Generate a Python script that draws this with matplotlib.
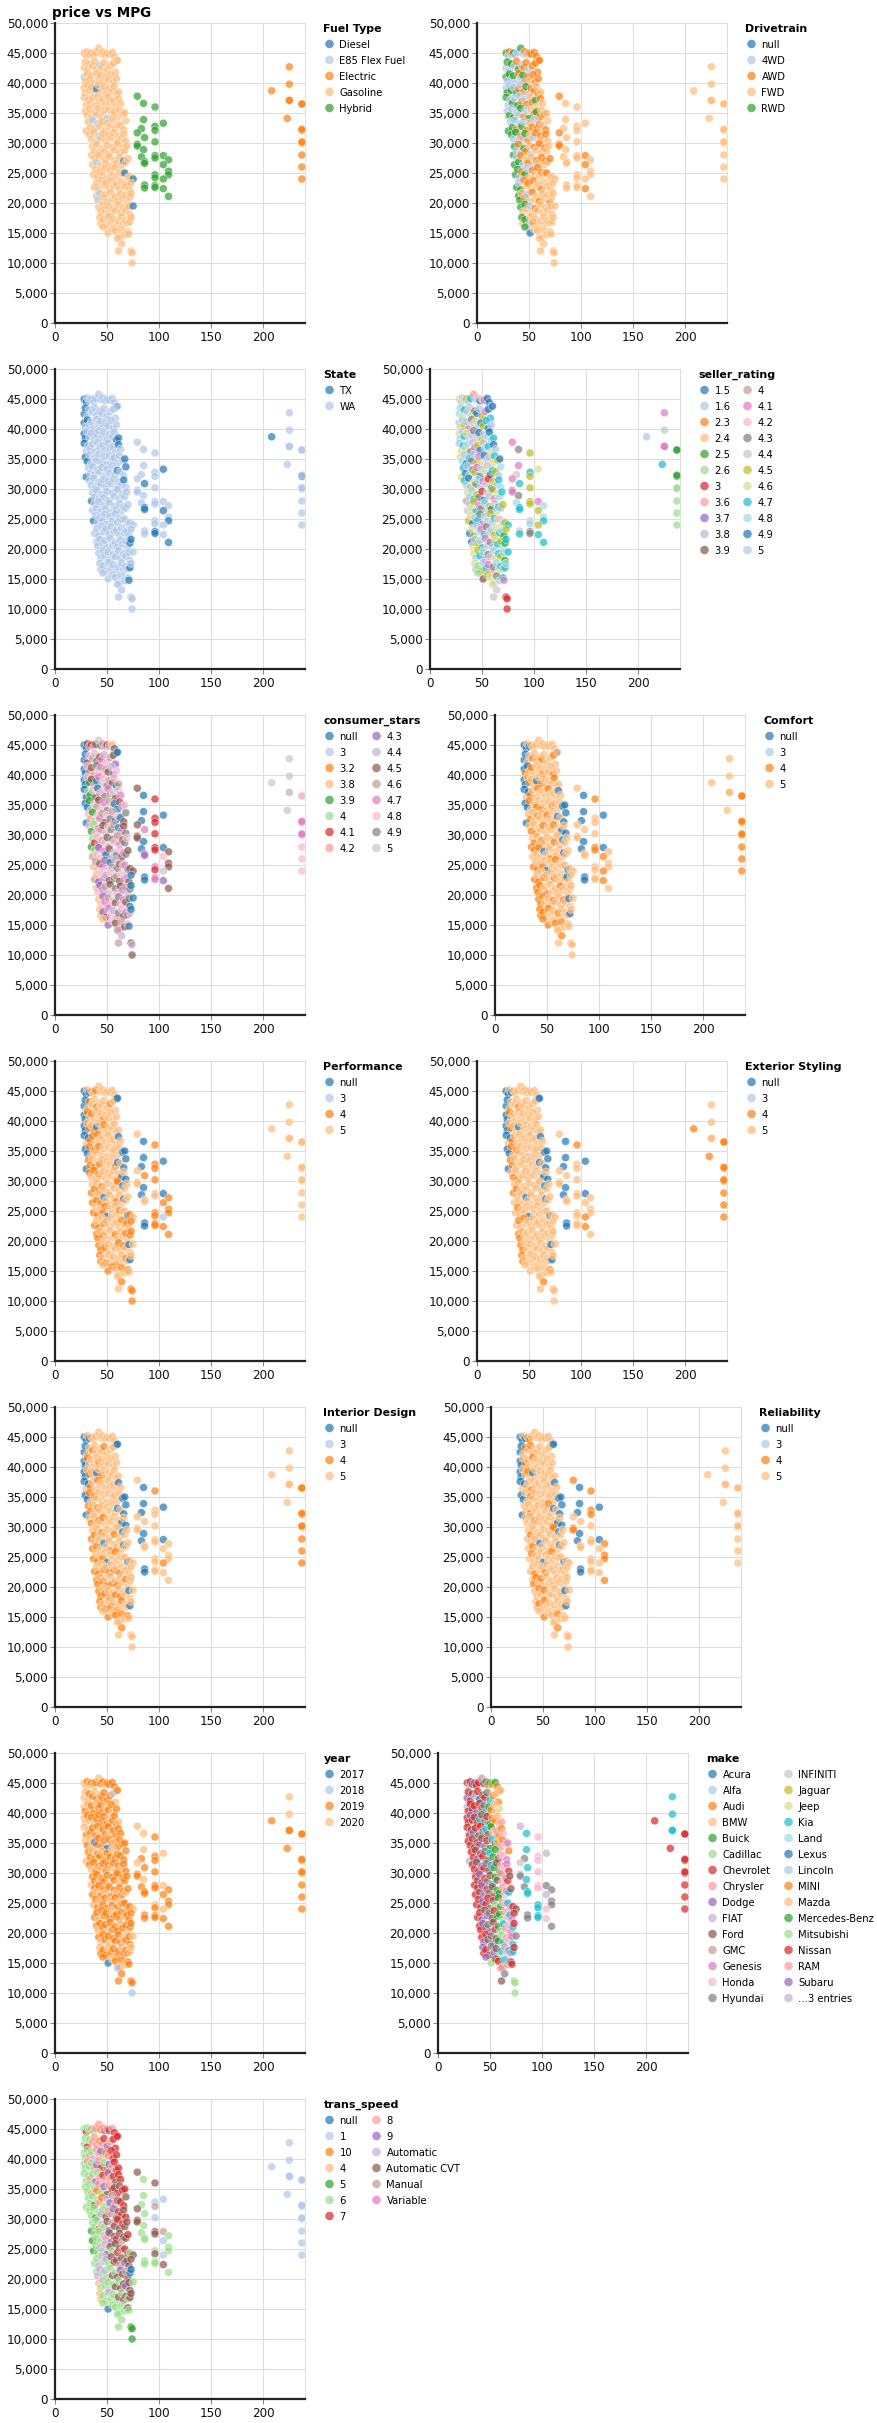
import matplotlib
matplotlib.use("Agg")
import matplotlib.pyplot as plt
from matplotlib.ticker import FuncFormatter
from collections import Counter

# ---------------- data ----------------
MPG = [
    28, 30, 31, 33, 35, 37, 39, 42, 44, 46, 48, 50, 52, 55, 57, 59,
    28, 29, 31, 33, 36, 38, 40, 43, 45, 47, 50, 53, 56, 58, 60,
    28, 29, 31, 33, 35, 37, 40, 42, 44, 46, 49, 51, 54, 56, 59,
    28, 29, 31, 33, 35, 38, 40, 42, 45, 47, 50, 52, 55, 57, 59, 61,
    28, 30, 32, 34, 36, 39, 41, 43, 46, 48, 51, 53, 56, 58, 61, 63,
    29, 31, 33, 35, 38, 40, 42, 45, 47, 50, 52, 55, 57, 60, 62, 65, 67,
    30, 32, 34, 36, 38, 41, 43, 45, 48, 50, 53, 55, 58, 60, 63, 66, 68,
    33, 35, 37, 39, 42, 44, 46, 49, 51, 54, 56, 59, 61, 64, 66, 68,
    35, 36, 38, 40, 42, 45, 47, 50, 52, 55, 57, 60, 62, 65, 67, 69,
    36, 38, 40, 42, 44, 47, 49, 52, 54, 57, 59, 62, 64, 66, 68, 70,
    37, 39, 41, 43, 46, 48, 50, 53, 55, 58, 60, 62, 65, 67, 70, 72, 75,
    38, 40, 42, 45, 47, 49, 52, 54, 57, 59, 62, 64, 67, 69, 71, 73,
    40, 41, 43, 46, 48, 50, 53, 55, 58, 60, 63, 65, 68, 70, 72, 73,
    42, 44, 46, 48, 51, 53, 56, 58, 61, 63, 66, 68, 71, 72, 75,
    43, 44, 46, 49, 51, 54, 56, 59, 61, 64, 66, 68, 70, 72, 73,
    46, 51, 55, 58, 62, 64, 67, 70, 71,
    60, 61, 64, 73, 74, 74,
    79, 85, 96, 85, 104, 96, 96, 83, 79, 86, 96, 79, 79, 85, 83, 96, 96,
    104, 109, 86, 86, 104, 109, 109, 96, 96, 104, 86, 86, 96, 96, 104, 109,
    225, 225, 208, 225, 225, 237, 237, 223, 237, 237, 237, 237, 237, 237, 237,
]
PRICE = [
    45000, 44500, 45200, 44800, 45000, 44600, 45100, 45800, 44900, 45200, 44700, 45000, 44800, 45100, 44400, 43700,
    42500, 43500, 42000, 43200, 42800, 43600, 42300, 43000, 42600, 43400, 42100, 42900, 43300, 41800, 43800,
    41000, 40300, 41500, 40600, 41200, 40000, 41600, 40800, 41300, 40200, 41000, 40500, 41400, 40100, 40700,
    39200, 38400, 39600, 38800, 39300, 38300, 39000, 39700, 38600, 39400, 38200, 39100, 38700, 39500, 38100, 38500,
    37600, 36300, 37200, 36700, 37500, 36200, 37800, 36900, 37300, 36400, 37700, 36800, 37100, 36100, 37400, 36600,
    35300, 34600, 35700, 34200, 35100, 34700, 35800, 34400, 35400, 34100, 35600, 34900, 35200, 34300, 35500, 34800, 35000,
    32000, 33500, 32600, 33800, 32300, 33200, 32800, 33600, 32100, 33300, 32700, 33900, 32400, 33100, 32900, 32200, 33700,
    31400, 30600, 31800, 30200, 31100, 30800, 31600, 30400, 31300, 30900, 31700, 30100, 31200, 30700, 31500, 30300,
    28000, 29400, 28700, 29800, 28300, 29100, 28600, 29600, 28100, 29300, 28800, 29900, 28400, 29200, 28700, 29500,
    26400, 27500, 26800, 27900, 26200, 27300, 26700, 27700, 26100, 27100, 26600, 27600, 26300, 27000, 26800, 27400,
    24700, 25600, 24300, 25200, 24800, 25800, 24100, 25400, 24600, 25900, 24400, 25100, 24900, 25000, 24200, 24400, 24000,
    22600, 23400, 22200, 23800, 22900, 23300, 22400, 23700, 22800, 23100, 22300, 23500, 22700, 23000, 22200, 23300,
    21200, 20500, 21600, 20900, 21400, 20200, 21800, 20600, 21100, 20300, 21500, 20800, 21300, 20100, 21000, 21600,
    19300, 18500, 19800, 18900, 19500, 18200, 19100, 18700, 19700, 18400, 19200, 18800, 19400, 18100, 19500,
    17600, 16600, 17200, 16300, 17800, 16800, 17400, 16100, 17000, 17700, 16500, 17100, 16700, 16900, 17600,
    16000, 15000, 15700, 15300, 14300, 15500, 14700, 15200, 14800,
    14100, 12000, 13200, 12000, 11700, 10000,
    37800, 36600, 36000, 33900, 33300, 32800, 32100, 32400, 31700, 30900, 30200, 29800, 29500, 28900, 27700, 27900, 27500,
    27900, 27200, 26900, 26600, 26400, 25300, 24700, 24700, 24200, 24000, 23000, 22500, 22900, 22600, 22400, 21100,
    42700, 39800, 38700, 37100, 37100, 36500, 36500, 34100, 32100, 32300, 30000, 30200, 28000, 26000, 24000,
]
# number of records in each price band of the listing above (last two: hybrids, electrics)
BAND_SIZES = [16, 15, 15, 16, 16, 17, 17, 16, 16, 16, 17, 16, 16, 15, 15, 9, 6, 33, 15]

# category labels (legend order) and one-letter codes per record, bands separated by spaces
FUEL_LABELS = ["Diesel", "E85 Flex Fuel", "Electric", "Gasoline", "Hybrid"]
FUEL_KEYS = "DXEGH"
FUEL = ("GGGGGGGGGGGGGGGG GGGGGGGXGGGGGGG XGGGGGGGGGGGGGG GGGGGGDGGGGGGGGG GGGGGGGGGGGGGGGG "
        "GGGGGGGGGXGGGGGGG GGGXGXGGGGGGGGGGG GGGGXGGGGGGGGGGG GGGGGGGGGGGGGGGG GGXGGGGGGGGGGDGG "
        "GGGGGGGGGGGGGDGGD GGGGGGGGGGGGGGGG GXXGGGGGGGGGGGGG GGGGGGGGGGGGGGD GGGGGGGGGGGGGGG "
        "GGGGGGGGG GGGGGG HHHHHHHHHHHHHHHHHHHHHHHHHHHHHHHHH EEEEEEEEEEEEEEE")

DRIVE_LABELS = ["null", "4WD", "AWD", "FWD", "RWD"]
DRIVE_KEYS = "N4AFR"
DRIVE = ("R4A4R44R4A4AAAAA 4R4R4AR4AA4AAAA R4R4R4A4RAAFAAA 4R4R4RA4AR4AAFAF R44R4R4A4AFARFAF "
         "4R4R44RA4RFARAFAF R4R4A4R4AFA4AAFAF R4R4A4RAF4AFAFAF RR4A4RAF4AFAFAFF R4RA4FAF4AFAFAFA "
         "RR4AR4FAFAFAFAFFF R4RAFAFAFFAFFFFF RRFA4FAFFAFFFAFF RFRF4FAFFFFFFFF RFR4FAFFFFFFFFF "
         "RNFFFFFFF FFFFFF AFFFFFFFAFFAAFFFFAFFFAFFFFFFFFFAF FFFFFFFFFFFFFFF")

STATE_LABELS = ["TX", "WA"]
STATE_KEYS = "TW"
STATE = ("TTWWWWWWWWWWWWWT TTWWWWWWWWWWWWW TWTWWWWWWWWWWWW TTWWWWWWWWWWWWTT TWWWWWWWWWWWWWTW "
         "TTWWWWWWWWWWWWWWT TWWWWWWWWWWWWTWWT WWWWWWWWWWWWWWTW TWWWWWWWWWWWWWWW WWWWWWWWWWWWWWWW "
         "TWWWWWWWWWWWWWWWW WWWWWWWWWWWWWWWW WWWWWWWWWWWWWWTT WWWWWWWWWWWWWWW WWWWWWWWWWWWWTW "
         "WWWWWWWWT WWWWWW WWWWTWWWWTWWWWWWWWWTTTWTWWWWWTTWT WWTWWWWWTWWWWWW")

SELLER_LABELS = ["1.5", "1.6", "2.3", "2.4", "2.5", "2.6", "3", "3.6", "3.7", "3.8", "3.9",
                 "4", "4.1", "4.2", "4.3", "4.4", "4.5", "4.6", "4.7", "4.8", "4.9", "5"]
SELLER_KEYS = "abcdefghijklmnopqrstuv"
SELLER = ("rvtrqvshvnurmuup tvrsvprouvqmusu vrtqvmoprvuqsuv rtvsrnvopuqvtuvs vrsrtovmqupvsruv "
          "rtvusovqmruvprsqu rsuvtoqmuvrpusqvt svuqrotvmpguqvst lrvtsqogupvqmrts pvrqsmotvquprsvq "
          "qruvsomtpqvsrntqs urqvtmsopvqrsteq urvqtsmpovrsqtes rvqstmopvrsqtes rbfqvsmhotrspst "
          "fkqrpotsm rppggg moqmrsqpmsqmmotqqmtssqtsptqpsooss mpvmmeeseefffff")

STARS_LABELS = ["null", "3", "3.2", "3.8", "3.9", "4", "4.1", "4.2",
                "4.3", "4.4", "4.5", "4.6", "4.7", "4.8", "4.9", "5"]
STARS_KEYS = "Nabcdefghijklmno"
STARS = ("NNjkfmjonkifocjN NNjmkonflimkjhN NNmkjgnolmkjihm NNmdjkNlomnkjmNk NNedmjNkmnlkojml "
         "NNdemkjmlnkmNNjlm NmgdemlkjmnkNmNjn mdemlkjimnkmNljn defmlkmjinmkljnm kemhmlNjkinmjlnj "
         "ckmjlhmNkinjmlnjj kchmlijmnkjmlijN cmhlkijmnmjlkinN cmhlkimjnmljnNN cchjlmiknmjlnmN "
         "chmjlkjmN kkijij jNfNNffNjlfjjNNffNjlhmjjlfoNNllhj ooooommollllmmm")

SCORE_LABELS = ["null", "3", "4", "5"]
SCORE_KEYS = "N345"
COMFORT = ("NN5N55555555555N NN5545554555455 N4N545555455545 NN5455N545555455 N5N45545554555N5 "
           "NN4554545554555NN N545545554555N5NN 5454554555455N5N 4545545555455N55 54545N5545555N55 "
           "454545N5545555N55 4545455545555N55 4445545555455555 444555455545N55 4445455545555N5 "
           "445454555 554555 5N4NN55N55555NN44N555455554NN5545 555554454444444")
PERFORMANCE = ("NN5N55455555555N NN545545555455N NN4545555455555 NN5454N554555555 N5N44545555555N5 "
               "NN4545455555555NN N445454555554N5NN 4545455555545N5N 4545445555545N55 45454N5555455N55 "
               "454544N5555455N45 4545455555545454 4454555545554544 445455554545N55 4454555455545N5 "
               "544554545 554444 5N4NN44N54455NN55N455444443NN4444 555555555555555")
EXTERIOR = ("NN5N55555555555N NN555545555555N NN4555555555555 NN5455N555555555 N5N45555555555N5 "
            "NN4545555555555NN N445555555555N5NN 5454555555555N5N 4545555555555N55 55555N5555555N55 "
            "545555N5555555N55 5454555555555555 4455555555555555 445555555555N55 4455555555555N5 "
            "555555545 554555 5N4NN55N55555NN55N555555554NN5545 554554444444444")
INTERIOR = ("NN5N55555555555N NN554555545555N NN4555545555555 NN5455N545555555 N5N45545555555N5 "
            "NN4545555555555NN N445545555555N5NN 5455454555555N5N 4545545555455N55 45455N5545555N55 "
            "454545N5545555N55 4545454545455555 4454545454554555 445454545455N55 4454545454555N5 "
            "545454545 554555 5N4NN55N55555NN55N555555554NN5555 555554454444444")
RELIABILITY = ("NN5N54555555555N NN545455555555N NN5455455555555 NN5545N555555555 N5N55455555555N5 "
               "NN5545555555555NN N555455555545N5NN 5555455555545N5N 5545555555545N55 55455N5555555N55 "
               "545555N5545555N55 5545554555555555 5445455555555555 554545555555N55 5545455555555N5 "
               "545554555 554555 4N4NN44N55544NN55N455544555NN5554 555555555555555")

YEAR_LABELS = ["2017", "2018", "2019", "2020"]
YEAR_KEYS = "7890"
YEAR = ("0090909099099990 000990909999809 090099099909909 0090909999909990 0909999099909999 "
        "09007999979909999 09909990999099999 9099909990999099 0999099909990999 9909990999099909 "
        "09909990999099990 9909999099990999 9099909999099099 909990999909990 099909999099900 "
        "970999099 899998 009009990999909990999999090999999 009999999999999")

MAKE_NAMES = ["Acura", "Alfa", "Audi", "BMW", "Buick", "Cadillac", "Chevrolet", "Chrysler",
              "Dodge", "FIAT", "Ford", "GMC", "Genesis", "Honda", "Hyundai", "INFINITI",
              "Jaguar", "Jeep", "Kia", "Land", "Lexus", "Lincoln", "MINI", "Mazda",
              "Mercedes-Benz", "Mitsubishi", "Nissan", "RAM", "Subaru", "Toyota",
              "Volkswagen", "Volvo"]
MAKE_KEYS = "ABCDEFGHIJKLMNOPQRSTUVWXYZabcdef"
MAKE_LEGEND = MAKE_NAMES[:29] + ["…3 entries"]
MAKE = ("GJaKcGaLKOCYQEWC cGaKJGUKaOSCXWD JaGKGcaKOSYCXDR aGcKaGSKOaECWXDH GaKcGKaOSKEXHWCN "
        "aGKaGcKOaYSKXHCNM JGaKcGaOKSEYKHNMC GaKGcaOKSEKYHNMa aGKcaGOKSEKHNMaK GaKIcGOKaEYHNMSK "
        "aGKIaGOKZEYHNSMaK GaIKcOKaEYZHNSMG aGIKOcKaYZSHNMSG aIGKOcKYZSHNMSO IaGKOcKZSHNSMSG "
        "IZKaOSHKG HKOZZZ dSNSdNNOPSNdOSONNOOSSdOOSSNOOSSNO SSaSSaaaaaaaaaa")

TRANS_LABELS = ["null", "1", "10", "4", "5", "6", "7", "8", "9",
                "Automatic", "Automatic CVT", "Manual", "Variable"]
TRANS_KEYS = "N1X456789ACMV"
TRANS = ("67668688X8987877 6676888X8798777 66686A8896X8777 6686689876X98777 6668696878987C77 "
         "66686X869C87C7C77 6666C68X6A9M8C77C 66656A6C8M9C7CC7 5666XA6C9MC7C7CC 56666A8C9C7CMCC7 "
         "566A6A9C6C7CM7C6C 66AA6A6C7CMC9CCC 6AA6A66C6C9CMCNN 46A66A6C6CC9CC6 4466A666C6CC6CC "
         "6N66666C6 666555 C6C611M6C61CC66CCM6661666C16666C6 111111111111111")

PALETTE = ["#1f77b4", "#aec7e8", "#ff7f0e", "#ffbb78", "#2ca02c", "#98df8a", "#d62728", "#ff9896",
           "#9467bd", "#c5b0d5", "#8c564b", "#c49c94", "#e377c2", "#f7b6d2", "#7f7f7f", "#c7c7c7",
           "#bcbd22", "#dbdb8d", "#17becf", "#9edae5"]

XTICKS = [0, 50, 100, 150, 200]
YTICKS = list(range(0, 50001, 5000))


def expand(codes):
    segs = codes.split()
    out = []
    for i, n in enumerate(BAND_SIZES):
        seg = segs[i] if i < len(segs) else ""
        fill = Counter(seg).most_common(1)[0][0] if seg else "?"
        out.append((seg + fill * n)[:n])
    return "".join(out)


# (legend title, keys, legend labels, codes, axes-left px, row, legend columns, column offset px)
PANELS = [
    ("Fuel Type", FUEL_KEYS, FUEL_LABELS, FUEL, 55, 0, 1, 0),
    ("Drivetrain", DRIVE_KEYS, DRIVE_LABELS, DRIVE, 477, 0, 1, 0),
    ("State", STATE_KEYS, STATE_LABELS, STATE, 55, 1, 1, 0),
    ("seller_rating", SELLER_KEYS, SELLER_LABELS, SELLER, 430, 1, 2, 43),
    ("consumer_stars", STARS_KEYS, STARS_LABELS, STARS, 55, 2, 2, 47),
    ("Comfort", SCORE_KEYS, SCORE_LABELS, COMFORT, 495, 2, 1, 0),
    ("Performance", SCORE_KEYS, SCORE_LABELS, PERFORMANCE, 55, 3, 1, 0),
    ("Exterior Styling", SCORE_KEYS, SCORE_LABELS, EXTERIOR, 477, 3, 1, 0),
    ("Interior Design", SCORE_KEYS, SCORE_LABELS, INTERIOR, 55, 4, 1, 0),
    ("Reliability", SCORE_KEYS, SCORE_LABELS, RELIABILITY, 491, 4, 1, 0),
    ("year", YEAR_KEYS, YEAR_LABELS, YEAR, 55, 5, 1, 0),
    ("make", MAKE_KEYS, MAKE_LEGEND, MAKE, 438, 5, 2, 76),
    ("trans_speed", TRANS_KEYS, TRANS_LABELS, TRANS, 55, 6, 2, 47),
]

W, H = 878, 2423
PW, PH = 250, 300
ROW0, ROWSTEP = 23, 346
PX = 0.72  # points per pixel at dpi 100

fig = plt.figure(figsize=(W / 100, H / 100), dpi=100)
fig.patch.set_facecolor("white")

fmt = FuncFormatter(lambda v, p: f"{int(v):,}")

for title, keys, labels, codes, left, row, ncol, coloff in PANELS:
    top = ROW0 + ROWSTEP * row
    ax = fig.add_axes([left / W, 1 - (top + PH) / H, PW / W, PH / H])
    seq = expand(codes)
    cols = [PALETTE[(keys.index(c) if c in keys else 0) % 20] for c in seq]
    ax.scatter(MPG, PRICE, c=cols, s=33, alpha=0.7, edgecolors="white",
               linewidths=0.4, clip_on=False, zorder=3)
    ax.set_xlim(0, 240)
    ax.set_ylim(0, 50000)
    ax.set_xticks(XTICKS)
    ax.set_yticks(YTICKS)
    ax.yaxis.set_major_formatter(fmt)
    ax.grid(True, color="#dddddd", linewidth=0.75)
    ax.set_axisbelow(True)
    for s in ("top", "right"):
        ax.spines[s].set_color("#dddddd")
        ax.spines[s].set_linewidth(0.75)
    for s in ("left", "bottom"):
        ax.spines[s].set_color("#222222")
        ax.spines[s].set_linewidth(1.6)
        ax.spines[s].set_zorder(4)
    ax.tick_params(axis="both", length=3.6, width=0.75, color="#888888",
                   labelsize=12 * PX, labelcolor="#111111")
    ax.tick_params(axis="y", pad=1.5)
    ax.tick_params(axis="x", pad=2.5)

# overlay in pixel coordinates for titles and legends
lax = fig.add_axes([0, 0, 1, 1], zorder=10)
lax.set_xlim(0, W)
lax.set_ylim(H, 0)
lax.axis("off")
lax.patch.set_alpha(0)

lax.text(52, 16.5, "price vs MPG", fontsize=13.5 * PX, fontweight="bold",
         va="baseline", ha="left", color="black")

for title, keys, labels, codes, left, row, ncol, coloff in PANELS:
    top = ROW0 + ROWSTEP * row
    lx = left + PW + 18.5
    lax.text(lx, top + 9, title, fontsize=11 * PX, fontweight="bold",
             va="baseline", ha="left", color="black")
    nrows = -(-len(labels) // ncol)
    for j, lab in enumerate(labels):
        c, r = divmod(j, nrows)
        cx = lx + 6 + c * coloff
        cy = top + 21 + 16 * r
        lax.scatter([cx], [cy], s=38, color=PALETTE[j % 20], alpha=0.7,
                    edgecolors="none", clip_on=False)
        lax.text(cx + 10, cy + 3.6, lab, fontsize=10 * PX, va="baseline",
                 ha="left", color="black")

fig.savefig("out.png", dpi=100, facecolor="white")
